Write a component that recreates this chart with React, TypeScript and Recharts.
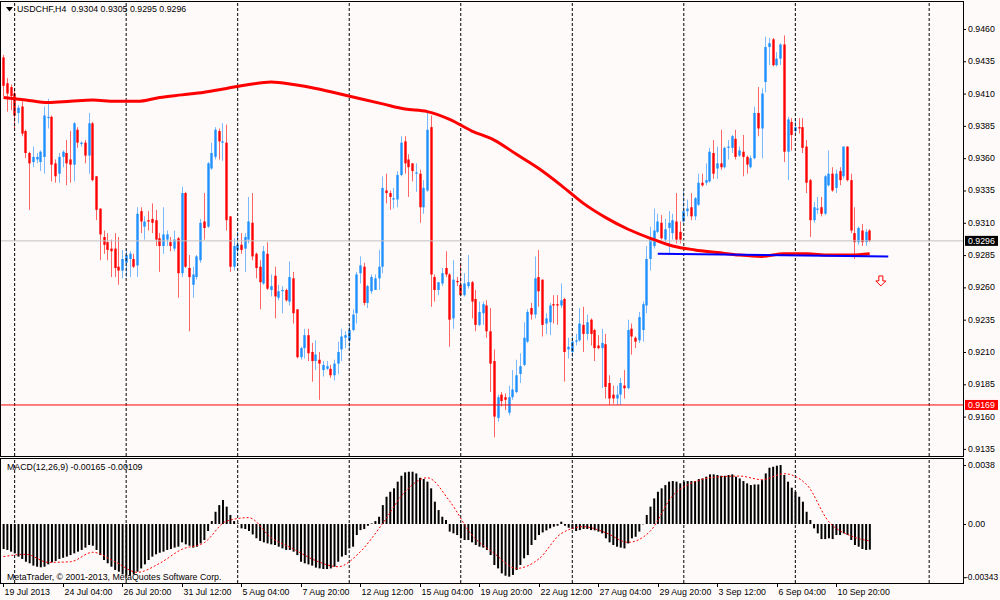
import React from "react";
import {
  ComposedChart,
  Bar,
  Line,
  XAxis,
  YAxis,
  ReferenceLine,
  ReferenceDot,
} from "recharts";

// USDCHF H4 candles
const openP = [
  0.9438, 0.9418, 0.9415, 0.941, 0.9395, 0.94, 0.9381, 0.9364, 0.9357, 0.9359,
  0.9357, 0.9361, 0.9391, 0.9392, 0.9356, 0.9348, 0.9361, 0.9364, 0.9359, 0.9355,
  0.9382, 0.9371, 0.9372, 0.9362, 0.9387, 0.9346, 0.9321, 0.9299, 0.9295, 0.929,
  0.929, 0.9276, 0.9273, 0.9279, 0.9282, 0.9282, 0.9277, 0.9319, 0.9307, 0.9312,
  0.9313, 0.9312, 0.9298, 0.9292, 0.9297, 0.9295, 0.929, 0.9298, 0.9271, 0.9333,
  0.9275, 0.9262, 0.9268, 0.9281, 0.9311, 0.9307, 0.9352, 0.9361, 0.9381, 0.9372,
  0.9372, 0.9315, 0.9276, 0.9289, 0.9293, 0.929, 0.9297, 0.931, 0.9286, 0.9276,
  0.9263, 0.9286, 0.9258, 0.9269, 0.9252, 0.9257, 0.9258, 0.9249, 0.9267, 0.9243,
  0.9206, 0.9213, 0.9223, 0.921, 0.9203, 0.9204, 0.9196, 0.9197, 0.9197, 0.9192,
  0.9201, 0.9212, 0.9221, 0.9219, 0.9227, 0.924, 0.9271, 0.9276, 0.9248, 0.9257,
  0.9258, 0.9267, 0.9276, 0.9335, 0.9333, 0.9328, 0.9328, 0.9347, 0.9373, 0.9359,
  0.9356, 0.9348, 0.9348, 0.9322, 0.9335, 0.9384, 0.9268, 0.9258, 0.9263, 0.9275,
  0.927, 0.9236, 0.9265, 0.9262, 0.9254, 0.9261, 0.9264, 0.9251, 0.9231, 0.924,
  0.9246, 0.9226, 0.9203, 0.9159, 0.9177, 0.9175, 0.9163, 0.9175, 0.9179, 0.9193,
  0.92, 0.9218, 0.9244, 0.9239, 0.9268, 0.9266, 0.9232, 0.9233, 0.9247, 0.9247,
  0.9246, 0.9251, 0.9212, 0.921, 0.9218, 0.9219, 0.9231, 0.9224, 0.9235, 0.9227,
  0.9215, 0.9213, 0.9216, 0.9186, 0.9177, 0.9174, 0.9177, 0.9184, 0.9182, 0.9228,
  0.9221, 0.9219, 0.9227, 0.9246, 0.9282, 0.9292, 0.9303, 0.931, 0.9297, 0.9306,
  0.9302, 0.9311, 0.9303, 0.9311, 0.9319, 0.9322, 0.9315, 0.9324, 0.9341, 0.9341,
  0.9342, 0.9364, 0.9352, 0.9356, 0.9353, 0.9368, 0.9368, 0.9375, 0.9362, 0.9365,
  0.9361, 0.9353, 0.936, 0.9395, 0.9383, 0.9419, 0.9446, 0.9452, 0.9432, 0.9437,
  0.9448, 0.9365, 0.9388, 0.9381, 0.9384, 0.9384, 0.9369, 0.9343, 0.9312, 0.932,
  0.9322, 0.9317, 0.9339, 0.9348, 0.9337, 0.935, 0.9346, 0.9369, 0.9343, 0.9302,
  0.9295, 0.9304, 0.9295, 0.9304,
];

const highP = [
  0.944, 0.9422, 0.9417, 0.9414, 0.9401, 0.9404, 0.9382, 0.9365, 0.9369, 0.9364,
  0.9366, 0.94, 0.9406, 0.9393, 0.9359, 0.9364, 0.9366, 0.9374, 0.9381, 0.9388,
  0.9384, 0.9373, 0.9374, 0.9395, 0.9388, 0.9346, 0.9321, 0.9304, 0.9302, 0.9297,
  0.9302, 0.9299, 0.9289, 0.929, 0.9288, 0.9286, 0.9322, 0.9322, 0.9315, 0.9319,
  0.9325, 0.932, 0.9302, 0.9322, 0.9304, 0.9299, 0.9304, 0.9299, 0.9338, 0.9334,
  0.9285, 0.9276, 0.9285, 0.9313, 0.9333, 0.9357, 0.9372, 0.9384, 0.9383, 0.9387,
  0.9386, 0.9315, 0.9298, 0.9303, 0.9302, 0.9302, 0.933, 0.9333, 0.9287, 0.9281,
  0.9292, 0.9295, 0.927, 0.9276, 0.9262, 0.9261, 0.9259, 0.928, 0.9272, 0.9243,
  0.9214, 0.9228, 0.9228, 0.9217, 0.9219, 0.921, 0.9203, 0.9203, 0.92, 0.9204,
  0.9218, 0.9228, 0.9226, 0.9231, 0.9243, 0.9272, 0.9284, 0.9279, 0.9262, 0.927,
  0.927, 0.9289, 0.9346, 0.9348, 0.9335, 0.9337, 0.935, 0.9377, 0.9377, 0.9363,
  0.9356, 0.9356, 0.9351, 0.9343, 0.9396, 0.9393, 0.927, 0.9264, 0.9275, 0.9288,
  0.9271, 0.9281, 0.9268, 0.9279, 0.9271, 0.9285, 0.9265, 0.9258, 0.9249, 0.9249,
  0.925, 0.9244, 0.9212, 0.9177, 0.9179, 0.9178, 0.9184, 0.9196, 0.9204, 0.9209,
  0.9233, 0.9243, 0.9248, 0.9284, 0.9289, 0.9266, 0.924, 0.9248, 0.9254, 0.9254,
  0.9263, 0.9252, 0.9221, 0.9222, 0.9224, 0.9244, 0.9245, 0.9239, 0.9236, 0.9228,
  0.9223, 0.9228, 0.9224, 0.9192, 0.9184, 0.9184, 0.919, 0.9196, 0.9235, 0.9232,
  0.9222, 0.9241, 0.9249, 0.9292, 0.9307, 0.9321, 0.9317, 0.9316, 0.9313, 0.9319,
  0.9317, 0.9333, 0.9311, 0.9335, 0.9328, 0.9333, 0.933, 0.9348, 0.9348, 0.9356,
  0.9368, 0.9374, 0.9369, 0.9382, 0.9369, 0.9374, 0.9378, 0.9382, 0.9369, 0.9378,
  0.9362, 0.9362, 0.94, 0.9415, 0.9414, 0.9454, 0.9453, 0.9453, 0.9442, 0.9449,
  0.9455, 0.9392, 0.9391, 0.9391, 0.9391, 0.9391, 0.9374, 0.9344, 0.9326, 0.933,
  0.933, 0.9347, 0.9366, 0.9353, 0.9351, 0.9353, 0.9369, 0.9369, 0.9348, 0.9322,
  0.9307, 0.9309, 0.9305, 0.9305,
];

const lowP = [
  0.9408, 0.9396, 0.9397, 0.9383, 0.9387, 0.9377, 0.936, 0.932, 0.9353, 0.9356,
  0.935, 0.9348, 0.9383, 0.9342, 0.9341, 0.9341, 0.9353, 0.9339, 0.9341, 0.9342,
  0.9368, 0.9369, 0.9356, 0.9348, 0.9342, 0.9312, 0.9281, 0.9286, 0.9281, 0.9268,
  0.9268, 0.9262, 0.9267, 0.9268, 0.9268, 0.9275, 0.9268, 0.9302, 0.9297, 0.9304,
  0.9302, 0.9292, 0.9272, 0.9286, 0.9292, 0.9288, 0.9288, 0.9252, 0.9268, 0.9275,
  0.9226, 0.9252, 0.9266, 0.9279, 0.9297, 0.9306, 0.9351, 0.9359, 0.9359, 0.9358,
  0.9304, 0.9272, 0.9273, 0.9285, 0.9286, 0.9272, 0.9294, 0.9281, 0.9267, 0.9243,
  0.9262, 0.9258, 0.9253, 0.9236, 0.925, 0.924, 0.9249, 0.9246, 0.9232, 0.9205,
  0.9204, 0.9205, 0.9203, 0.9187, 0.9196, 0.9173, 0.9191, 0.9196, 0.919, 0.9188,
  0.9193, 0.9203, 0.9213, 0.9213, 0.9226, 0.9232, 0.9263, 0.9246, 0.9244, 0.9255,
  0.9258, 0.9258, 0.9271, 0.9325, 0.932, 0.9321, 0.9322, 0.9346, 0.9348, 0.933,
  0.9342, 0.9334, 0.931, 0.9317, 0.9334, 0.9245, 0.9249, 0.9254, 0.9261, 0.9268,
  0.9214, 0.9228, 0.9261, 0.9253, 0.9253, 0.9259, 0.9236, 0.9226, 0.923, 0.9231,
  0.9221, 0.9179, 0.9144, 0.9156, 0.9168, 0.9165, 0.9161, 0.9173, 0.9178, 0.9186,
  0.9199, 0.9217, 0.9235, 0.9236, 0.9245, 0.9222, 0.9224, 0.9223, 0.9232, 0.9231,
  0.9244, 0.9187, 0.9205, 0.9206, 0.9215, 0.9218, 0.921, 0.9219, 0.9215, 0.9203,
  0.9212, 0.9182, 0.9174, 0.9169, 0.917, 0.9169, 0.9169, 0.9174, 0.9181, 0.9208,
  0.9213, 0.9217, 0.9218, 0.924, 0.9273, 0.929, 0.9302, 0.9297, 0.9295, 0.9285,
  0.9297, 0.9294, 0.9294, 0.931, 0.9315, 0.9312, 0.9312, 0.9323, 0.9338, 0.9339,
  0.9341, 0.9344, 0.9344, 0.9351, 0.9352, 0.9359, 0.9364, 0.9359, 0.9361, 0.9346,
  0.9348, 0.9352, 0.9359, 0.9377, 0.936, 0.9411, 0.9432, 0.9431, 0.9431, 0.9432,
  0.9357, 0.9343, 0.9366, 0.9379, 0.9379, 0.9364, 0.9333, 0.9299, 0.931, 0.9317,
  0.9315, 0.9316, 0.9338, 0.9334, 0.9333, 0.9339, 0.9344, 0.9342, 0.9302, 0.9282,
  0.9293, 0.9292, 0.9292, 0.9295,
];

const closeP = [
  0.9416, 0.941, 0.9408, 0.9393, 0.9399, 0.9379, 0.9364, 0.9356, 0.9361, 0.9361,
  0.9365, 0.9393, 0.9392, 0.9355, 0.9346, 0.9361, 0.9365, 0.9356, 0.9355, 0.9387,
  0.9372, 0.9372, 0.9362, 0.9387, 0.9343, 0.932, 0.9301, 0.9293, 0.9289, 0.9288,
  0.9275, 0.9273, 0.9282, 0.9285, 0.9286, 0.9276, 0.9317, 0.9311, 0.9311, 0.9311,
  0.931, 0.9297, 0.9292, 0.9301, 0.9301, 0.9292, 0.9297, 0.9271, 0.9333, 0.9276,
  0.9268, 0.927, 0.9284, 0.931, 0.9306, 0.9356, 0.9364, 0.9382, 0.9373, 0.9373,
  0.9312, 0.9276, 0.9292, 0.9293, 0.9289, 0.9299, 0.9311, 0.9284, 0.9275, 0.9264,
  0.9288, 0.9259, 0.9261, 0.9253, 0.9257, 0.9258, 0.925, 0.9268, 0.924, 0.9206,
  0.9213, 0.9223, 0.9209, 0.9203, 0.9208, 0.9201, 0.92, 0.9199, 0.9192, 0.9201,
  0.921, 0.9222, 0.9223, 0.9227, 0.9239, 0.927, 0.9277, 0.9248, 0.9261, 0.9268,
  0.9267, 0.9276, 0.9337, 0.9333, 0.933, 0.9329, 0.9347, 0.9372, 0.9356, 0.9353,
  0.935, 0.9349, 0.9322, 0.9337, 0.9382, 0.927, 0.9258, 0.9264, 0.9271, 0.927,
  0.9235, 0.9266, 0.9264, 0.9254, 0.9263, 0.9264, 0.9249, 0.9231, 0.9241, 0.9247,
  0.9226, 0.9201, 0.916, 0.9175, 0.9172, 0.9173, 0.9175, 0.9181, 0.9192, 0.9199,
  0.9221, 0.9241, 0.9239, 0.9267, 0.9257, 0.9231, 0.9236, 0.9246, 0.9246, 0.9246,
  0.925, 0.921, 0.9214, 0.9218, 0.9219, 0.9232, 0.9224, 0.9233, 0.9224, 0.9213,
  0.9213, 0.9217, 0.9183, 0.9174, 0.9174, 0.9177, 0.9186, 0.9182, 0.9227, 0.9222,
  0.9218, 0.9237, 0.9247, 0.9282, 0.9297, 0.9304, 0.9311, 0.9298, 0.9305, 0.931,
  0.9312, 0.9297, 0.9297, 0.9319, 0.9321, 0.9315, 0.9329, 0.9341, 0.9339, 0.9343,
  0.9365, 0.9348, 0.9356, 0.9353, 0.9368, 0.9369, 0.9377, 0.9361, 0.9366, 0.9361,
  0.9355, 0.936, 0.9395, 0.9383, 0.941, 0.9446, 0.9449, 0.9432, 0.9437, 0.9448,
  0.9365, 0.939, 0.9378, 0.9384, 0.9383, 0.9368, 0.9341, 0.9312, 0.9322, 0.9321,
  0.9317, 0.9346, 0.9348, 0.9335, 0.9348, 0.9343, 0.9369, 0.9343, 0.9304, 0.9295,
  0.9306, 0.9295, 0.9303, 0.9296,
];

// moving average, read once per trading day (every 6th H4 bar) + last bar
const maDaily = [
  0.9407, 0.9405, 0.9403, 0.9404, 0.9405, 0.9404, 0.9404, 0.9407, 0.9409, 0.9411,
  0.9414, 0.9417, 0.9419, 0.9417, 0.9414, 0.941, 0.9406, 0.9402, 0.9398, 0.9396,
  0.939, 0.9381, 0.9374, 0.9363, 0.9352, 0.9339, 0.9325, 0.9314, 0.9305, 0.9298,
  0.9292, 0.9289, 0.9287, 0.9285, 0.9284, 0.9286, 0.9286, 0.9285, 0.9285,
];
const maLast = 0.9286;

// MACD(12,26,9) main histogram
const macdHist = [
  -0.00161, -0.00167, -0.00178, -0.00189, -0.0021, -0.00225, -0.00243, -0.00253, -0.00268, -0.00275,
  -0.00279, -0.00275, -0.0026, -0.00247, -0.00238, -0.00225, -0.00217, -0.0021, -0.002, -0.00189,
  -0.00178, -0.00167, -0.00152, -0.00135, -0.0014, -0.00167, -0.002, -0.00232, -0.00253, -0.00275,
  -0.00296, -0.00307, -0.00324, -0.00328, -0.00333, -0.00324, -0.00307, -0.00286, -0.0026, -0.00232,
  -0.0021, -0.00195, -0.00185, -0.00178, -0.00167, -0.00161, -0.00152, -0.00146, -0.00118, -0.00131,
  -0.0014, -0.00152, -0.00146, -0.00125, -0.00103, -0.00045, 0.00019, 0.00079, 0.00122, 0.00155,
  0.00112, 0.00058, 0.00019, 0.00004, -0.00028, -0.00032, -0.00045, -0.00067, -0.00092, -0.00109,
  -0.00118, -0.00125, -0.00131, -0.00135, -0.00146, -0.00157, -0.00167, -0.00167, -0.00178, -0.002,
  -0.00243, -0.00253, -0.0026, -0.00268, -0.00281, -0.00286, -0.0029, -0.0029, -0.00286, -0.00275,
  -0.00243, -0.0021, -0.002, -0.00157, -0.00146, -0.00071, -0.00039, -0.00032, -0.00011, 0.00004,
  0.00019, 0.00047, 0.00122, 0.00176, 0.00208, 0.0023, 0.00273, 0.00311, 0.00333, 0.00337,
  0.00337, 0.00326, 0.00298, 0.0029, 0.00273, 0.0023, 0.00144, 0.0009, 0.00047, 0.00026,
  -0.00049, -0.0006, -0.00071, -0.00092, -0.00103, -0.00103, -0.00118, -0.00135, -0.00146, -0.00152,
  -0.00167, -0.002, -0.00264, -0.00286, -0.00318, -0.00333, -0.00339, -0.00328, -0.00296, -0.00264,
  -0.00221, -0.002, -0.00135, -0.00103, -0.00071, -0.00054, -0.00041, -0.00028, -0.00017, -0.00011,
  0.00015, -0.00011, -0.00024, -0.00032, -0.00045, -0.00039, -0.00032, -0.00032, -0.00039, -0.00041,
  -0.00049, -0.0006, -0.00092, -0.00118, -0.00135, -0.00146, -0.00152, -0.00157, -0.00125, -0.00092,
  -0.00082, -0.00049, -0.00002, 0.00058, 0.00112, 0.00165, 0.00208, 0.0023, 0.00251, 0.00273,
  0.00277, 0.00273, 0.00262, 0.00273, 0.00277, 0.00277, 0.00277, 0.0029, 0.00294, 0.00305,
  0.0032, 0.0032, 0.00316, 0.00311, 0.00311, 0.00316, 0.0032, 0.00305, 0.00294, 0.00277,
  0.00262, 0.00251, 0.00255, 0.00255, 0.00283, 0.00326, 0.00363, 0.00369, 0.00376, 0.0038,
  0.00316, 0.00273, 0.00234, 0.00208, 0.00176, 0.00144, 0.00079, 0.00026, -0.00028, -0.0006,
  -0.00097, -0.00097, -0.00092, -0.00097, -0.00071, -0.00071, -0.0006, -0.00071, -0.00103, -0.00135,
  -0.00146, -0.00161, -0.00167, -0.00165,
];

// signal line, read every 6th bar + last bar
const signalDaily = [
  -0.0021, -0.00195, -0.00247, -0.00243, -0.00182, -0.00243, -0.00311, -0.00253, -0.00163, -0.0012,
  0.00019, 0.00041, -0.00088, -0.00161, -0.00236, -0.00275, -0.00178, 0.00004, 0.00208, 0.00298,
  0.00148, -0.00071, -0.00189, -0.00286, -0.00225, -0.00062, -0.00017, -0.00056, -0.00118, -0.00045,
  0.00182, 0.00273, 0.00303, 0.00309, 0.00286, 0.00324, 0.00255, 0.00015, -0.00077,
];
const signalLast = -0.00109;

const timeLabels = [
  "19 Jul 2013", "24 Jul 04:00", "26 Jul 20:00", "31 Jul 12:00", "5 Aug 04:00",
  "7 Aug 20:00", "12 Aug 12:00", "15 Aug 04:00", "19 Aug 20:00", "22 Aug 12:00",
  "27 Aug 04:00", "29 Aug 20:00", "3 Sep 12:00", "6 Sep 04:00", "10 Sep 20:00",
];
const LABEL_STEP = 16;
const weekStarts = [3, 33, 63, 93, 123, 153, 183, 213, 249];

const priceTicks = [
  0.9135, 0.916, 0.9185, 0.921, 0.9235, 0.926, 0.9285, 0.931, 0.9335, 0.936,
  0.9385, 0.941, 0.9435, 0.946,
];
const lastPrice = 0.9296;
const levelPrice = 0.9169;
const trendLine = [
  { bar: 176, price: 0.9286 },
  { bar: 238, price: 0.9284 },
];
const arrowMark = { bar: 236, price: 0.9265 };

const macdTicks = [0.0038, 0, -0.00343];
const macdTickText = ["0.0038", "0.00", "-0.00343"];

const X_DOMAIN: [number, number] = [-0.67, 258.1];
const FONT = "'Liberation Sans', Arial, sans-serif";
const FS = 8.8;
const BG = "#fffafa";

const N = closeP.length;
const rows = closeP.map((c, i) => ({
  i,
  o: openP[i],
  h: highP[i],
  l: lowP[i],
  c,
  macd: macdHist[i],
  ma: i % 6 === 0 ? maDaily[i / 6] : i === N - 1 ? maLast : null,
  signal: i % 6 === 0 ? signalDaily[i / 6] : i === N - 1 ? signalLast : null,
}));

function Candle(props: any) {
  const { x, y, width, height, payload } = props;
  if (!payload || height == null) return null;
  const { o, h, l, c } = payload;
  const k = height / (h - l || 1);
  const cx = Math.round(x + width / 2) + 0.5;
  const col = c > o ? "#1e90ff" : "#ff0000";
  const top = y + (h - Math.max(o, c)) * k;
  const bh = Math.max(1, Math.abs(o - c) * k);
  return (
    <g>
      <line x1={cx} x2={cx} y1={y} y2={y + height} stroke={col} strokeOpacity={0.6} strokeWidth={1} />
      <rect x={cx - 1.2} y={top} width={2.4} height={bh} fill={col} />
    </g>
  );
}

function PriceTick(props: any) {
  const { x, y, payload } = props;
  const v = payload.value;
  const edge = x - 5;
  const txt = v.toFixed(4);
  if (v === lastPrice || v === levelPrice) {
    return (
      <g>
        <rect x={edge + 2} y={y - 5} width={33} height={10} fill={v === lastPrice ? "#000" : "#ff0000"} />
        <text x={x} y={y + 0.5} fill="#fff" fontFamily={FONT} fontSize={FS} dominantBaseline="central">
          {txt}
        </text>
      </g>
    );
  }
  return (
    <g>
      <line x1={edge} x2={edge + 3} y1={y + 0.5} y2={y + 0.5} stroke="#000" />
      <text x={x} y={y} fill="#000" fontFamily={FONT} fontSize={FS} dominantBaseline="central">
        {txt}
      </text>
    </g>
  );
}

function MacdTick(props: any) {
  const { x, y, payload, index } = props;
  const edge = x - 5;
  const txt = macdTickText[index] ?? String(payload.value);
  const neg = txt.startsWith("-");
  return (
    <g>
      <line x1={edge} x2={edge + 3} y1={y + 0.5} y2={y + 0.5} stroke="#000" />
      <text
        x={neg ? x - 3 : x}
        y={y}
        fill="#000"
        fontFamily={FONT}
        fontSize={neg ? 8.4 : FS}
        dominantBaseline="central"
      >
        {txt}
      </text>
    </g>
  );
}

function TimeTick(props: any) {
  const { x, y, payload } = props;
  const label = timeLabels[Math.round(payload.value / LABEL_STEP)];
  const tx = Math.round(x) + 0.5;
  return (
    <g>
      <line x1={tx} x2={tx} y1={y} y2={y + 4} stroke="#000" />
      <text x={tx + 1} y={y + 8.5} fill="#000" fontFamily={FONT} fontSize={FS} dominantBaseline="central">
        {label}
      </text>
    </g>
  );
}

function DownArrow(props: any) {
  const { cx, cy } = props;
  const p = [
    [cx - 2, cy - 5],
    [cx + 2, cy - 5],
    [cx + 2, cy],
    [cx + 5, cy],
    [cx, cy + 5],
    [cx - 5, cy],
    [cx - 2, cy],
  ]
    .map((q) => q.join(","))
    .join(" ");
  return <polygon points={p} fill="#fff" stroke="#ff0000" strokeWidth={1} />;
}

const abs = (left: number, top: number): React.CSSProperties => ({
  position: "absolute",
  left,
  top,
  fontFamily: FONT,
  fontSize: FS,
  color: "#000",
  whiteSpace: "pre",
  lineHeight: "10px",
  pointerEvents: "none",
});

export default function App() {
  const labelIdx = timeLabels.map((_, k) => k * LABEL_STEP);
  return (
    <div style={{ position: "absolute", left: 0, top: 0, width: 1000, height: 600, background: BG, overflow: "hidden" }}>
      <div style={{ position: "absolute", left: 0, top: 0 }}>
        <ComposedChart width={1000} height={457} data={rows} margin={{ top: 3, right: 0, bottom: 1, left: 1 }}>
          <XAxis dataKey="i" type="number" domain={X_DOMAIN} hide allowDataOverflow />
          <YAxis
            orientation="right"
            width={37}
            domain={[0.91295, 0.94801]}
            ticks={[...priceTicks, lastPrice, levelPrice]}
            interval={0}
            tick={<PriceTick />}
            tickLine={false}
            axisLine={false}
            tickSize={3}
            tickMargin={2}
            allowDataOverflow
          />
          {weekStarts.map((w) => (
            <ReferenceLine key={w} x={w} stroke="#000" strokeDasharray="3 2" />
          ))}
          <ReferenceLine y={lastPrice} stroke="#c0c0c0" />
          <ReferenceLine y={levelPrice} stroke="#ff0000" />
          <Bar dataKey={(d: any) => [d.l, d.h]} shape={<Candle />} barSize={3} isAnimationActive={false} />
          <Line
            dataKey="ma"
            type="monotone"
            stroke="#ff0000"
            strokeWidth={3}
            dot={false}
            connectNulls
            isAnimationActive={false}
          />
          <ReferenceLine
            segment={[
              { x: trendLine[0].bar, y: trendLine[0].price },
              { x: trendLine[1].bar, y: trendLine[1].price },
            ]}
            stroke="#0000ff"
            strokeWidth={2}
          />
          <ReferenceDot x={arrowMark.bar} y={arrowMark.price} shape={<DownArrow />} />
        </ComposedChart>
      </div>
      <div style={{ position: "absolute", left: 0, top: 457 }}>
        <ComposedChart width={1000} height={143} data={rows} margin={{ top: 2, right: 0, bottom: 0, left: 1 }}>
          <XAxis
            dataKey="i"
            type="number"
            domain={X_DOMAIN}
            ticks={labelIdx}
            interval={0}
            tick={<TimeTick />}
            tickLine={false}
            axisLine={false}
            tickSize={0}
            tickMargin={0}
            height={17}
            allowDataOverflow
          />
          <YAxis
            orientation="right"
            width={37}
            domain={[-0.0038, 0.00419]}
            ticks={macdTicks}
            interval={0}
            tick={<MacdTick />}
            tickLine={false}
            axisLine={false}
            tickSize={3}
            tickMargin={2}
            allowDataOverflow
          />
          {weekStarts.map((w) => (
            <ReferenceLine key={w} x={w} stroke="#000" strokeDasharray="3 2" />
          ))}
          <Bar dataKey="macd" fill="#000" barSize={2} isAnimationActive={false} />
          <Line
            dataKey="signal"
            type="monotone"
            stroke="#ff0000"
            strokeWidth={1}
            strokeDasharray="2 2"
            dot={false}
            connectNulls
            isAnimationActive={false}
          />
        </ComposedChart>
      </div>

      {/* panel frames */}
      <div style={{ position: "absolute", left: 0, top: 1, width: 964, height: 456, border: "1px solid #000", boxSizing: "border-box", pointerEvents: "none" }} />
      <div style={{ position: "absolute", left: 0, top: 458, width: 964, height: 126, border: "1px solid #000", boxSizing: "border-box", pointerEvents: "none" }} />

      {/* titles */}
      <svg style={{ position: "absolute", left: 6, top: 7 }} width={7} height={5}>
        <polygon points="0,0 7,0 3.5,4.5" fill="#000" />
      </svg>
      <div style={abs(17, 4)}>{"USDCHF,H4  0.9304 0.9305 0.9295 0.9296"}</div>
      <div style={abs(7, 462)}>{"MACD(12,26,9) -0.00165 -0.00109"}</div>
      <div style={abs(7, 572)}>{"MetaTrader, © 2001-2013, MetaQuotes Software Corp."}</div>
    </div>
  );
}
